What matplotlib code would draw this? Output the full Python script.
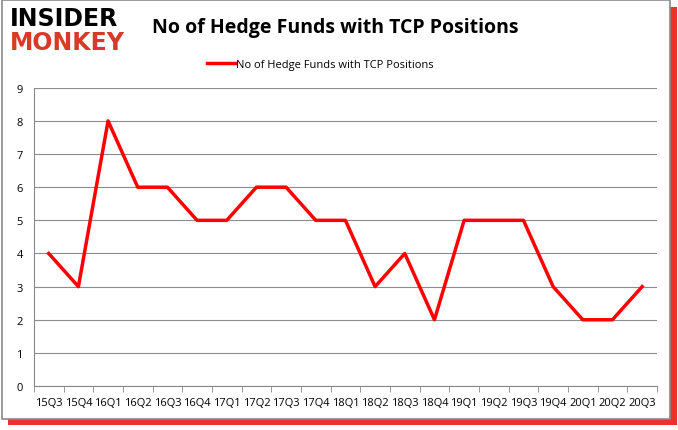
import numpy as np
import matplotlib.pyplot as plt
from matplotlib.patches import Rectangle

# Quarterly hedge fund counts
quarters = ['15Q3', '15Q4', '16Q1', '16Q2', '16Q3', '16Q4', '17Q1', '17Q2', '17Q3', '17Q4',
            '18Q1', '18Q2', '18Q3', '18Q4', '19Q1', '19Q2', '19Q3', '19Q4', '20Q1', '20Q2', '20Q3']
funds = [4, 3, 8, 6, 6, 5, 5, 6, 6, 5, 5, 3, 4, 2, 5, 5, 5, 3, 2, 2, 3]

plt.rcParams['font.family'] = ['Open Sans', 'DejaVu Sans']

fig = plt.figure(figsize=(6.78, 4.31), dpi=100)

# frame with red shadow
fig.patches.append(Rectangle((0.012, 0.012), 0.986, 0.97, transform=fig.transFigure,
                             facecolor='#f03030', edgecolor='none', zorder=-3))
fig.patches.append(Rectangle((0.003, 0.025), 0.985, 0.972, transform=fig.transFigure,
                             facecolor='white', edgecolor='#8a8a8a', linewidth=1.2, zorder=-2))

ax = fig.add_axes([0.050, 0.102, 0.919, 0.692])
x = np.arange(len(quarters))
ax.plot(x, funds, color='#ff0000', linewidth=2.5, label='No of Hedge Funds with TCP Positions')

ax.set_xlim(-0.5, len(quarters) - 0.5)
ax.set_ylim(0, 9)
ax.set_yticks(range(0, 10))
ax.set_xticks(x)
ax.set_xticklabels(quarters, fontsize=8)
ax.set_xticks(np.arange(-0.5, len(quarters)), minor=True)
ax.tick_params(axis='x', which='major', length=0, pad=8)
ax.tick_params(axis='x', which='minor', length=4, color='#888888')
ax.tick_params(axis='y', length=0, labelsize=8, pad=8)
ax.yaxis.grid(True, color='#8c8c8c', linewidth=0.8)
ax.set_axisbelow(True)
for s in ['top', 'right']:
    ax.spines[s].set_visible(False)
ax.spines['left'].set_color('#888888')
ax.spines['bottom'].set_color('#888888')

ax.legend(loc='upper center', bbox_to_anchor=(0.46, 1.13), frameon=False, fontsize=8,
          handlelength=2.5, handletextpad=0.1)

fig.text(0.495, 0.935, 'No of Hedge Funds with TCP Positions', ha='center', va='center',
         fontsize=14, fontweight='bold')

# logo
fig.text(0.015, 0.955, 'INSIDER', fontsize=17, fontweight='heavy', color='black',
         va='center', ha='left', family='DejaVu Sans')
fig.text(0.015, 0.9, 'MONKEY', fontsize=17, fontweight='heavy', color='#d93a28',
         va='center', ha='left', family='DejaVu Sans')

fig.savefig('out.png', dpi=100)
